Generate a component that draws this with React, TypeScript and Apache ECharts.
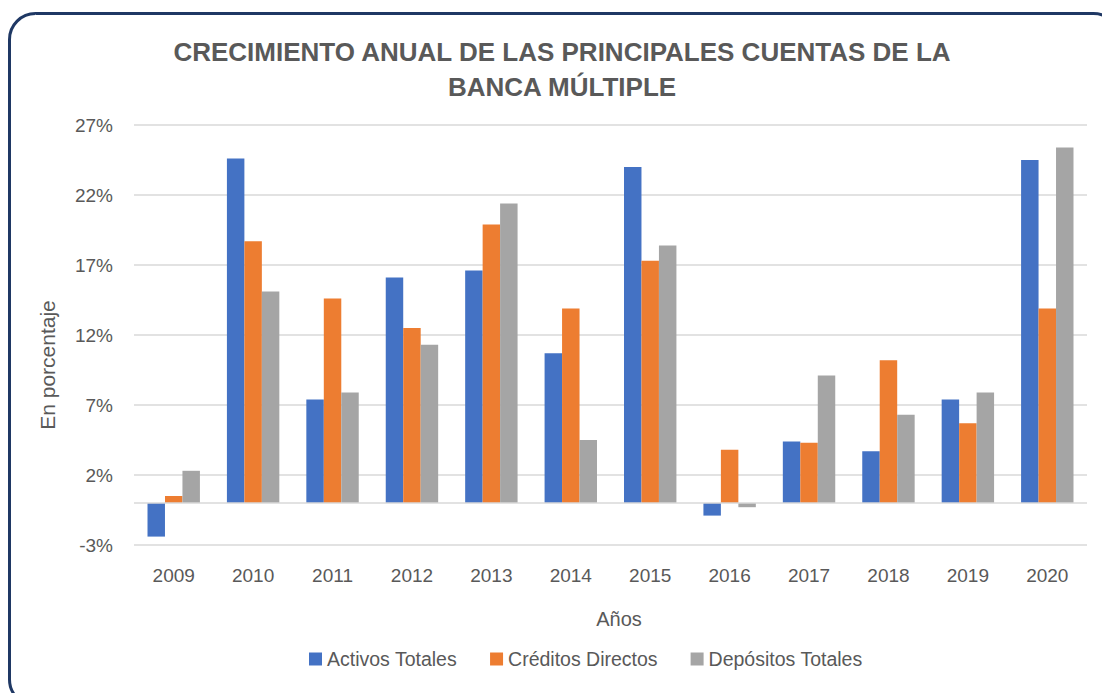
import React, { useEffect, useRef } from "react";
import * as echarts from "echarts";

const years = ["2009", "2010", "2011", "2012", "2013", "2014", "2015", "2016", "2017", "2018", "2019", "2020"];
const activosTotales = [-2.4, 24.6, 7.4, 16.1, 16.6, 10.7, 24.0, -0.9, 4.4, 3.7, 7.4, 24.5];
const creditosDirectos = [0.5, 18.7, 14.6, 12.5, 19.9, 13.9, 17.3, 3.8, 4.3, 10.2, 5.7, 13.9];
const depositosTotales = [2.3, 15.1, 7.9, 11.3, 21.4, 4.5, 18.4, -0.3, 9.1, 6.3, 7.9, 25.4];
const seriesNames = ["Activos Totales", "Créditos Directos", "Depósitos Totales"];
const colors = ["#4472c4", "#ed7d31", "#a5a5a5"];
const titleLines = ["CRECIMIENTO ANUAL DE LAS PRINCIPALES CUENTAS DE LA", "BANCA MÚLTIPLE"];
const yAxisTitle = "En porcentaje";
const xAxisTitle = "Años";

const FONT = "'Liberation Sans', Arial, sans-serif";
const TEXT = "#595959";

export default function App() {
  const ref = useRef<HTMLDivElement>(null);
  useEffect(() => {
    if (!ref.current) return;
    const chart = echarts.init(ref.current, null, { renderer: "svg" });
    const data = [activosTotales, creditosDirectos, depositosTotales];
    chart.setOption({
      animation: false,
      backgroundColor: "#ffffff",
      textStyle: { fontFamily: FONT },
      grid: { left: 134, right: 15, top: 125, bottom: 148, containLabel: false },
      legend: {
        data: seriesNames,
        left: 304,
        top: 644,
        itemWidth: 13,
        itemHeight: 13,
        itemGap: 33,
        icon: "rect",
        textStyle: { color: TEXT, fontSize: 19.5, fontFamily: FONT },
      },
      xAxis: {
        type: "category",
        data: years,
        axisLine: { show: false, onZero: false },
        axisTick: { show: false },
        axisLabel: { color: TEXT, fontSize: 19, margin: 21, fontFamily: FONT },
        splitLine: { show: false },
      },
      yAxis: {
        type: "value",
        min: -3,
        max: 27,
        interval: 5,
        axisLine: { show: false },
        axisTick: { show: false },
        axisLabel: { color: TEXT, fontSize: 19, margin: 21, formatter: "{value}%", fontFamily: FONT },
        splitLine: { lineStyle: { color: "#d9d9d9", width: 1.5 } },
      },
      series: seriesNames.map((name, i) => ({
        name,
        type: "bar",
        data: data[i],
        barGap: "0%",
        barCategoryGap: "34%",
        itemStyle: { color: colors[i] },
        ...(i === 0
          ? {
              markLine: {
                silent: true,
                symbol: "none",
                label: { show: false },
                lineStyle: { color: "#d9d9d9", width: 1.5, type: "solid" },
                data: [{ yAxis: 0 }],
              },
            }
          : {}),
      })),
      graphic: [
        {
          type: "rect",
          shape: { x: 9.5, y: 13.5, width: 1110, height: 692, r: 26 },
          style: { fill: "none", stroke: "#1f3864", lineWidth: 3 },
          silent: true,
        },
        {
          type: "text",
          x: 562,
          y: 52,
          style: {
            text: titleLines[0],
            align: "center",
            verticalAlign: "middle",
            fill: TEXT,
            font: `bold 26px ${FONT}`,
          },
        },
        {
          type: "text",
          x: 562,
          y: 87,
          style: {
            text: titleLines[1],
            align: "center",
            verticalAlign: "middle",
            fill: TEXT,
            font: `bold 26px ${FONT}`,
          },
        },
        {
          type: "text",
          x: 47,
          y: 365,
          rotation: Math.PI / 2,
          style: {
            text: yAxisTitle,
            align: "center",
            verticalAlign: "middle",
            fill: TEXT,
            font: `21px ${FONT}`,
          },
        },
        {
          type: "text",
          x: 619,
          y: 619,
          style: {
            text: xAxisTitle,
            align: "center",
            verticalAlign: "middle",
            fill: TEXT,
            font: `20px ${FONT}`,
          },
        },
      ],
    });
    return () => chart.dispose();
  }, []);
  return <div ref={ref} style={{ position: "absolute", left: 0, top: 0, width: 1102, height: 693 }} />;
}
